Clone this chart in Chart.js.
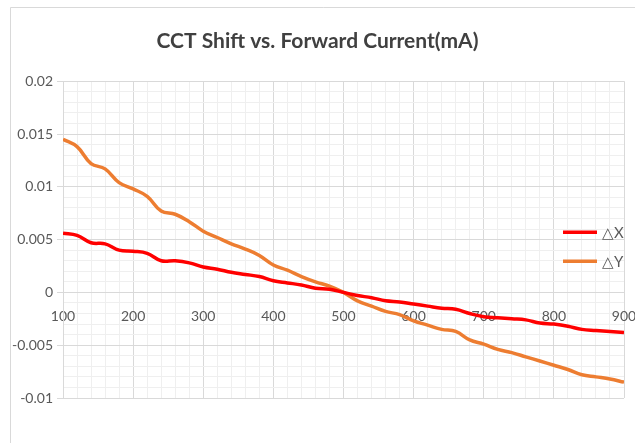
<!DOCTYPE html>
<html>
<head>
<meta charset="utf-8">
<script src="https://cdn.jsdelivr.net/npm/chart.js@4/dist/chart.umd.min.js"></script>
<style>
html,body{margin:0;padding:0;background:#fff;}
#wrap{width:635px;height:443px;position:relative;}
</style>
</head>
<body>
<div id="wrap"><canvas id="c" width="635" height="443"></canvas></div>
<script>
const titleText = "CCT Shift vs. Forward Current(mA)";
const seriesNames = ["\u25B3X", "\u25B3Y"];
const current = [100,120,140,160,180,200,220,240,260,280,300,320,340,360,380,400,420,440,460,480,500,520,540,560,580,600,620,640,660,680,700,720,740,760,780,800,820,840,860,880,900];
const deltaX = [0.0056,0.0054,0.0047,0.0046,0.0040,0.0039,0.0037,0.0030,0.0030,0.0028,0.0024,0.0022,0.0019,0.0017,0.0015,0.0011,0.0009,0.0007,0.0004,0.0003,0.0000,-0.0003,-0.0005,-0.0008,-0.0009,-0.0011,-0.0013,-0.0015,-0.0016,-0.0020,-0.0023,-0.0024,-0.0025,-0.0026,-0.0029,-0.0030,-0.0032,-0.0035,-0.0036,-0.0037,-0.0038];
const deltaY = [0.0145,0.0138,0.0122,0.0117,0.0104,0.0098,0.0091,0.0077,0.0074,0.0067,0.0058,0.0052,0.0046,0.0041,0.0035,0.0026,0.0021,0.0015,0.0010,0.0006,0.0000,-0.0008,-0.0013,-0.0018,-0.0021,-0.0027,-0.0031,-0.0035,-0.0037,-0.0045,-0.0049,-0.0054,-0.0057,-0.0061,-0.0065,-0.0069,-0.0073,-0.0078,-0.0080,-0.0082,-0.0085];
const xMajorTicks = [100,200,300,400,500,600,700,800,900];
const yMajorTicks = [-0.01,-0.005,0,0.005,0.01,0.015,0.02];

const FONT = "Lato, 'Liberation Sans', Arial, sans-serif";
const TXT = "#595959";
const MAJOR = "#d9d9d9";
const MINOR = "#efefef";

function isMajorX(v){ return xMajorTicks.some(t => Math.abs(t - v) < 1e-6); }
function isMajorY(v){ return yMajorTicks.some(t => Math.abs(t - v) < 1e-9); }

const framePlugin = {
  id: 'frame',
  beforeDraw(chart){
    const ctx = chart.ctx;
    ctx.save();
    ctx.fillStyle = '#fff';
    ctx.fillRect(0,0,chart.width,chart.height);
    ctx.strokeStyle = '#d9d9d9';
    ctx.lineWidth = 1;
    ctx.beginPath();
    ctx.moveTo(10.5, chart.height + 2);
    ctx.lineTo(10.5, 7.5);
    ctx.lineTo(chart.width + 2, 7.5);
    ctx.stroke();
    ctx.restore();
  }
};

const legendPlugin = {
  id: 'overlayLegend',
  afterDraw(chart){
    const ctx = chart.ctx;
    const a = chart.chartArea;
    ctx.save();
    chart.data.datasets.forEach((ds, i) => {
      const y = a.top + 151 + i * 29;
      ctx.strokeStyle = ds.borderColor;
      ctx.lineWidth = 3.5;
      ctx.beginPath();
      ctx.moveTo(a.right - 61, y);
      ctx.lineTo(a.right - 27, y);
      ctx.stroke();
      ctx.fillStyle = TXT;
      ctx.font = "15px " + FONT;
      ctx.textBaseline = 'middle';
      ctx.textAlign = 'left';
      ctx.fillText(ds.label, a.right - 22, y + 1);
    });
    ctx.restore();
  }
};

new Chart(document.getElementById('c'), {
  type: 'line',
  data: {
    datasets: [
      { label: seriesNames[0], data: current.map((x,i)=>({x, y: deltaX[i]})), borderColor: '#ff0000', backgroundColor: '#ff0000', borderWidth: 3.5, pointRadius: 0, tension: 0.4, fill: false },
      { label: seriesNames[1], data: current.map((x,i)=>({x, y: deltaY[i]})), borderColor: '#ed7d31', backgroundColor: '#ed7d31', borderWidth: 3.5, pointRadius: 0, tension: 0.4, fill: false }
    ]
  },
  options: {
    responsive: false,
    animation: false,
    devicePixelRatio: 1,
    layout: { padding: { left: 0, right: 0, top: 0, bottom: 45 } },
    plugins: {
      legend: { display: false },
      tooltip: { enabled: false },
      title: {
        display: true,
        text: titleText,
        color: '#404040',
        font: { family: FONT, size: 21, weight: 'bold' },
        padding: { top: 29, bottom: 27 }
      }
    },
    scales: {
      x: {
        type: 'linear',
        position: { y: 0 },
        min: 100, max: 900,
        afterFit: s => { s.paddingLeft = 0; s.paddingRight = 11; },
        ticks: {
          stepSize: 20,
          autoSkip: false,
          maxRotation: 0,
          color: TXT,
          font: { family: FONT, size: 14 },
          padding: 16,
          callback: v => isMajorX(v) ? String(v) : ''
        },
        grid: {
          drawTicks: false,
          color: c => isMajorX(c.tick.value) ? MAJOR : MINOR,
          lineWidth: 1
        },
        border: { color: MAJOR }
      },
      y: {
        min: -0.01, max: 0.02,
        afterFit: s => { s.width = 63; },
        ticks: {
          stepSize: 0.001,
          autoSkip: false,
          color: TXT,
          font: { family: FONT, size: 14 },
          padding: 4,
          callback: v => isMajorY(v) ? String(Math.round(v*1000)/1000) : ''
        },
        grid: {
          tickLength: 6,
          color: c => isMajorY(c.tick.value) ? MAJOR : MINOR,
          tickColor: c => isMajorY(c.tick.value) ? MAJOR : 'rgba(0,0,0,0)',
          lineWidth: 1
        },
        border: { color: MAJOR }
      }
    }
  },
  plugins: [framePlugin, legendPlugin]
});
</script>
</body>
</html>
